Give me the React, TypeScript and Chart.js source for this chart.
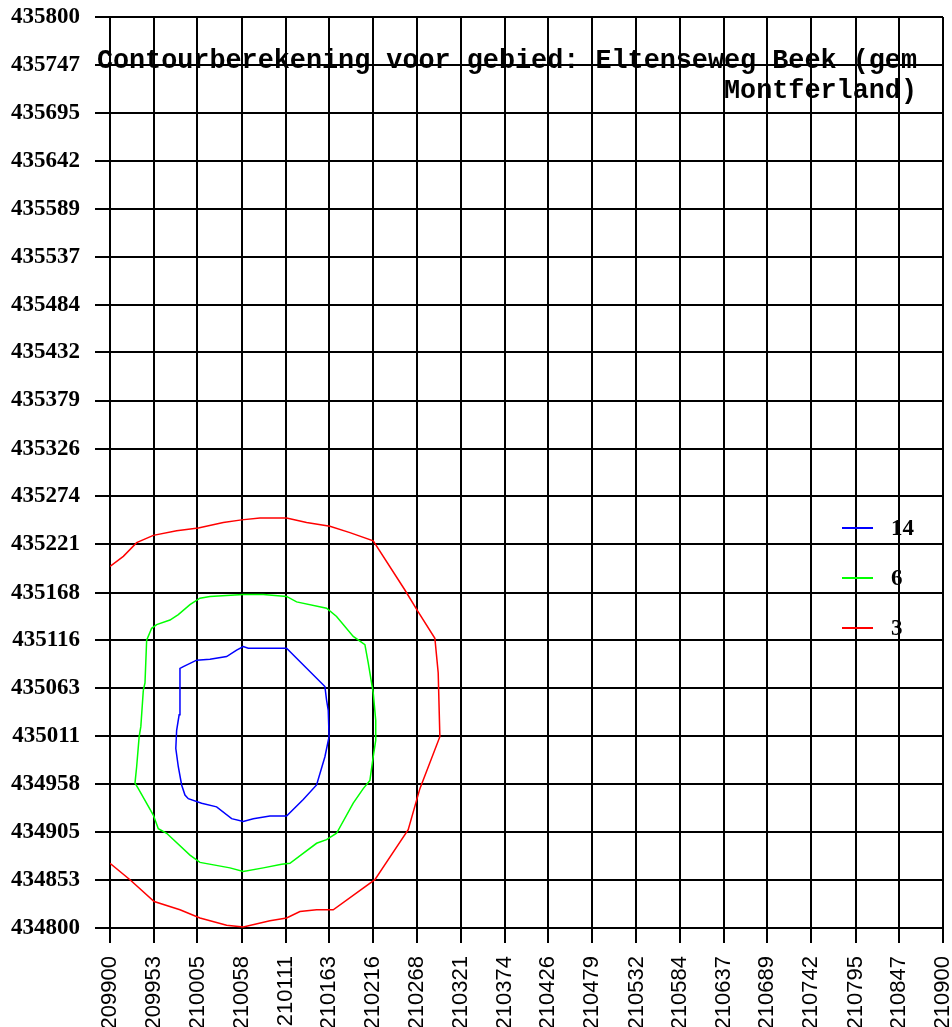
import React, { useEffect, useRef } from "react";
import { Chart, registerables } from "chart.js";
Chart.register(...registerables);

const TITLE_LINES = ["Contourberekening voor gebied: Eltenseweg Beek (gem", "Montferland)"];
const X_TICKS = [209900, 209953, 210005, 210058, 210111, 210163, 210216, 210268, 210321, 210374, 210426, 210479, 210532, 210584, 210637, 210689, 210742, 210795, 210847, 210900];
const Y_TICKS = [434800, 434853, 434905, 434958, 435011, 435063, 435116, 435168, 435221, 435274, 435326, 435379, 435432, 435484, 435537, 435589, 435642, 435695, 435747, 435800];
const SERIES_LABELS = ["14", "6", "3"];
const SERIES_COLORS = ["#0000ff", "#00ff00", "#ff0000"];
const SERIES_CLOSED = [true, true, false];

const C14_X = [209984, 209984, 209988, 210004, 210020, 210040, 210052, 210060, 210066, 210112, 210158, 210160, 210162, 210163, 210158, 210148, 210132, 210112, 210092, 210072, 210060, 210046, 210028, 210010, 209994, 209990, 209986, 209982, 209979, 209980, 209983];
const C14_Y = [435050, 435085, 435087, 435094, 435095, 435098, 435105, 435109, 435107, 435107, 435065, 435050, 435039, 435010, 434988, 434957, 434941, 434923, 434923, 434920, 434917, 434920, 434933, 434937, 434942, 434946, 434957, 434977, 434997, 435017, 435034];

const C6_X = [209940, 209942, 209944, 209950, 209956, 209972, 209982, 209996, 210008, 210020, 210060, 210084, 210112, 210124, 210160, 210172, 210192, 210206, 210210, 210214, 210216, 210219, 210219, 210216, 210212, 210204, 210192, 210172, 210160, 210148, 210116, 210106, 210084, 210060, 210044, 210008, 209996, 209968, 209958, 209952, 209934, 209930, 209932, 209935, 209937];
const C6_Y = [435061, 435069, 435116, 435129, 435133, 435138, 435144, 435155, 435162, 435164, 435166, 435166, 435164, 435158, 435151, 435142, 435120, 435111, 435091, 435069, 435058, 435028, 435006, 434988, 434962, 434953, 434937, 434904, 434897, 434893, 434871, 434870, 434866, 434862, 434866, 434872, 434880, 434904, 434909, 434924, 434953, 434959, 434977, 435010, 435021];

const C3_X = [209900, 209916, 209932, 209952, 209980, 210006, 210036, 210058, 210080, 210112, 210136, 210164, 210188, 210216, 210254, 210270, 210290, 210294, 210296, 210272, 210258, 210218, 210168, 210148, 210128, 210112, 210092, 210060, 210040, 210008, 209984, 209953, 209924, 209900];
const C3_Y = [435197, 435208, 435223, 435231, 435236, 435239, 435245, 435248, 435250, 435250, 435245, 435241, 435234, 435225, 435171, 435147, 435118, 435080, 435010, 434953, 434908, 434853, 434820, 434820, 434818, 434811, 434808, 434801, 434803, 434811, 434820, 434829, 434853, 434871];

const SERIES_X = [C14_X, C6_X, C3_X];
const SERIES_Y = [C14_Y, C6_Y, C3_Y];

const overlayPlugin = {
  id: "overlay",
  afterDraw(chart: any) {
    const ctx = chart.ctx;
    const area = chart.chartArea;
    ctx.save();
    // legend
    chart.data.datasets.forEach((ds: any, i: number) => {
      const y = area.top + 511 + i * 50;
      ctx.strokeStyle = ds.borderColor;
      ctx.lineWidth = 2;
      ctx.beginPath();
      ctx.moveTo(area.right - 101, y);
      ctx.lineTo(area.right - 70, y);
      ctx.stroke();
      ctx.fillStyle = "#000";
      ctx.font = 'bold 23px "Liberation Serif", serif';
      ctx.textAlign = "left";
      ctx.textBaseline = "middle";
      ctx.fillText(ds.label, area.right - 52, y + 1);
    });
    // title
    ctx.fillStyle = "#000";
    ctx.font = 'bold 26.8px "Liberation Mono", monospace';
    ctx.textAlign = "right";
    ctx.textBaseline = "alphabetic";
    TITLE_LINES.forEach((line, i) => {
      ctx.fillText(line, area.right - 26, area.top + 51 + i * 30);
    });
    ctx.restore();
  },
};

export default function App() {
  const ref = useRef<HTMLCanvasElement>(null);
  useEffect(() => {
    if (!ref.current) return;
    const datasets = SERIES_LABELS.map((label, i) => {
      const pts = SERIES_X[i].map((x, j) => ({ x, y: SERIES_Y[i][j] }));
      if (SERIES_CLOSED[i]) pts.push({ ...pts[0] });
      return {
        label,
        data: pts,
        showLine: true,
        borderColor: SERIES_COLORS[i],
        backgroundColor: SERIES_COLORS[i],
        borderWidth: 1.5,
        pointRadius: 0,
        tension: 0,
        fill: false,
      };
    });
    const chart = new Chart(ref.current, {
      type: "scatter",
      data: { datasets },
      options: {
        animation: false,
        responsive: false,
        devicePixelRatio: 1,
        layout: { padding: { top: 17, right: 9, left: 0, bottom: 0 } },
        plugins: {
          legend: { display: false },
          tooltip: { enabled: false },
          title: { display: false },
        },
        scales: {
          x: {
            type: "linear",
            min: X_TICKS[0],
            max: X_TICKS[X_TICKS.length - 1],
            afterBuildTicks: (s: any) => {
              s.ticks = X_TICKS.map((v) => ({ value: v }));
            },
            afterFit: (s: any) => {
              s.height = 99;
              s.paddingLeft = 0;
              s.paddingRight = 0;
              s.paddingTop = 0;
              s.paddingBottom = 0;
            },
            ticks: {
              autoSkip: false,
              minRotation: 90,
              maxRotation: 90,
              padding: 13,
              color: "#000",
              font: { family: '"Liberation Sans", Arial, sans-serif', size: 22 },
              callback: (v: any) => String(v),
            },
            grid: { color: "#000", lineWidth: 2, tickLength: 15, tickColor: "#000" },
            border: { color: "#000", width: 2 },
          },
          y: {
            type: "linear",
            min: Y_TICKS[0],
            max: Y_TICKS[Y_TICKS.length - 1],
            afterBuildTicks: (s: any) => {
              s.ticks = Y_TICKS.map((v) => ({ value: v }));
            },
            afterFit: (s: any) => {
              s.width = 110;
              s.paddingLeft = 0;
              s.paddingRight = 0;
              s.paddingTop = 0;
              s.paddingBottom = 0;
            },
            ticks: {
              autoSkip: false,
              padding: 15,
              color: "#000",
              font: { family: '"Liberation Serif", serif', size: 23, weight: "bold" },
              callback: (v: any) => String(v),
            },
            grid: { color: "#000", lineWidth: 2, tickLength: 15, tickColor: "#000" },
            border: { color: "#000", width: 2 },
          },
        },
      } as any,
      plugins: [overlayPlugin],
    });
    return () => chart.destroy();
  }, []);
  return (
    <div style={{ position: "absolute", left: 0, top: 0, width: 952, height: 1027, background: "#fff" }}>
      <canvas ref={ref} width={952} height={1027} style={{ display: "block", width: 952, height: 1027 }} />
    </div>
  );
}
